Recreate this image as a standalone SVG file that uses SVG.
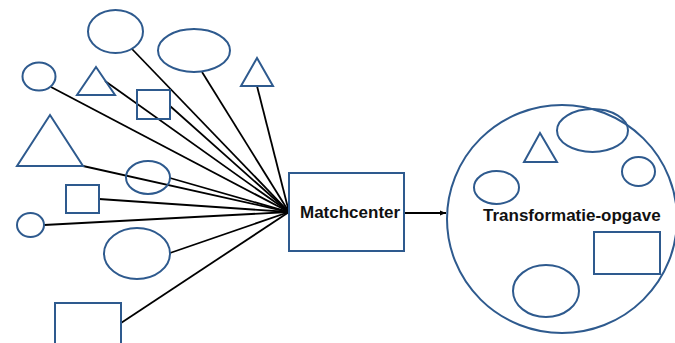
<svg xmlns="http://www.w3.org/2000/svg" width="675" height="343" viewBox="0 0 675 343">
  <style>
    .shape { fill: none; stroke: #2E5A8E; stroke-width: 2; }
    .link { stroke: #000; stroke-width: 1.8; fill: none; }
    .label { font-family: "Liberation Sans", Arial, sans-serif; font-weight: bold; font-size: 17px; fill: #111; }
  </style>
  <defs>
    <marker id="arrow" viewBox="0 0 10 10" refX="10" refY="5" markerWidth="6" markerHeight="6" orient="auto" markerUnits="userSpaceOnUse">
      <path d="M0,1 L10,5 L0,9 z" fill="#000"/>
    </marker>
  </defs>
  <rect width="675" height="343" fill="#fff"/>

  <!-- connectors from the loose shapes into the match centre -->
  <g id="connectors">
    <line class="link" x1="132" y1="49" x2="289" y2="212"/>
    <line class="link" x1="202" y1="72" x2="289" y2="212"/>
    <line class="link" x1="257" y1="86" x2="289" y2="212"/>
    <line class="link" x1="51" y1="87" x2="289" y2="212"/>
    <line class="link" x1="105" y1="81" x2="289" y2="212"/>
    <line class="link" x1="170" y1="106" x2="289" y2="212"/>
    <line class="link" x1="83" y1="166" x2="289" y2="212"/>
    <line class="link" x1="170" y1="178" x2="289" y2="212"/>
    <line class="link" x1="99" y1="199" x2="289" y2="212"/>
    <line class="link" x1="44" y1="225" x2="289" y2="212"/>
    <line class="link" x1="170" y1="253" x2="289" y2="212"/>
    <line class="link" x1="121" y1="323" x2="289" y2="212"/>
    <line class="link" x1="404" y1="213" x2="446" y2="213" stroke-width="1.5" marker-end="url(#arrow)"/>
  </g>

  <!-- loose shapes on the left -->
  <g id="ellipse-top"><ellipse class="shape" cx="115.5" cy="31.5" rx="27.5" ry="21.5"/></g>
  <g id="ellipse-wide"><ellipse class="shape" cx="194" cy="50.5" rx="36" ry="21.5"/></g>
  <g id="triangle-right"><polygon class="shape" points="257,58 273,86 241,86"/></g>
  <g id="circle-small-top"><ellipse class="shape" cx="39" cy="76.5" rx="16.5" ry="14"/></g>
  <g id="triangle-small"><polygon class="shape" points="96,67 115,95 77,95"/></g>
  <g id="square-top"><rect class="shape" x="137" y="90" width="33" height="29"/></g>
  <g id="triangle-big"><polygon class="shape" points="50,115 83,166 17,166"/></g>
  <g id="ellipse-mid"><ellipse class="shape" cx="148" cy="177.5" rx="22" ry="16.5"/></g>
  <g id="square-mid"><rect class="shape" x="66" y="185" width="33" height="28"/></g>
  <g id="circle-small-mid"><ellipse class="shape" cx="30.5" cy="225" rx="13.5" ry="12"/></g>
  <g id="ellipse-low"><ellipse class="shape" cx="137" cy="253.5" rx="33" ry="25.5"/></g>
  <g id="square-bottom"><rect class="shape" x="55" y="303" width="66" height="50"/></g>

  <!-- match centre -->
  <g id="matchcenter">
    <rect class="shape" x="289" y="173" width="115" height="78"/>
    <text class="label" x="300" y="218">Matchcenter</text>
  </g>

  <!-- transformation task -->
  <g id="transformatie-opgave">
    <ellipse class="shape" cx="562" cy="219" rx="115" ry="114"/>
    <ellipse class="shape" cx="592.5" cy="130.5" rx="35.5" ry="21.5"/>
    <polygon class="shape" points="540,133 557,162 524,162"/>
    <ellipse class="shape" cx="638.5" cy="171.5" rx="16.5" ry="14.5"/>
    <ellipse class="shape" cx="496.5" cy="187.5" rx="22.5" ry="16.5"/>
    <rect class="shape" x="594" y="232" width="66" height="42"/>
    <ellipse class="shape" cx="546" cy="291" rx="33" ry="26"/>
    <text class="label" x="483" y="221">Transformatie-opgave</text>
  </g>
</svg>
